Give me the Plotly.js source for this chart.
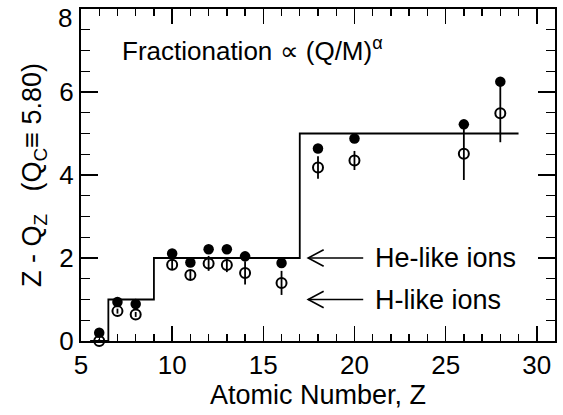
<!DOCTYPE html>
<html>
<head>
<meta charset="utf-8">
<script src="https://cdn.plot.ly/plotly-3.0.1.min.js"></script>
<style>html,body{margin:0;padding:0;background:#fff;}#chart{width:563px;height:415px;}</style>
</head>
<body>
<div id="chart"></div>
<script>
// Data
const atomicZ = [6, 7, 8, 10, 11, 12, 13, 14, 16, 18, 20, 26, 28];
const heLike  = [0.20, 0.94, 0.89, 2.11, 1.89, 2.21, 2.21, 2.04, 1.88, 4.64, 4.88, 5.22, 6.25];
const hLike   = [0.00, 0.72, 0.64, 1.84, 1.59, 1.87, 1.83, 1.64, 1.40, 4.18, 4.35, 4.51, 5.49];
const hLikeErr = [0.05, 0.06, 0.06, 0.12, 0.12, 0.18, 0.17, 0.28, 0.29, 0.27, 0.23, 0.63, 0.70];
const stepZ = [5.5, 6.5, 9, 17, 29];
const stepY = [0, 1, 2, 5, 5];
const xTicks = [5, 10, 15, 20, 25, 30];
const yTicks = [0, 2, 4, 6, 8];
const arrowLabels = ["He-like ions", "H-like ions"];
const arrowY = [2.0, 1.0];

const FONT = '"Liberation Sans", Arial, Helvetica, sans-serif';

const traces = [
  {
    x: stepZ, y: stepY, mode: 'lines', line: {shape: 'hv', color: '#000', width: 1.8},
    hoverinfo: 'skip', showlegend: false
  },
  {
    x: atomicZ, y: hLike, mode: 'markers', cliponaxis: false,
    marker: {symbol: 'circle-open', size: 10, color: '#000', line: {width: 2, color: '#000'}},
    error_y: {type: 'data', array: hLikeErr, visible: true, color: '#000', thickness: 1.8, width: 0},
    showlegend: false
  },
  {
    x: atomicZ, y: heLike, mode: 'markers', cliponaxis: false,
    marker: {symbol: 'circle', size: 10.5, color: '#000'},
    showlegend: false
  }
];

const arrowTip = 17.46, arrowTail = 20.48, headLen = 0.85, headHalf = 0.2, textX = 21.0;
const shapes = [];
const annotations = [{
  x: 7.16, y: 7.02, xref: 'x', yref: 'y', xanchor: 'left', yanchor: 'middle',
  text: 'Fractionation \u221D (Q/M)<sup>\u03B1</sup>', showarrow: false,
  font: {family: FONT, size: 26, color: '#000'}
}];
arrowY.forEach((yv, i) => {
  shapes.push({type: 'line', xref: 'x', yref: 'y', x0: arrowTip, x1: arrowTail, y0: yv, y1: yv,
    line: {color: '#000', width: 1.6}});
  shapes.push({type: 'path', xref: 'x', yref: 'y',
    path: `M ${arrowTip + headLen},${yv + headHalf} L ${arrowTip},${yv} L ${arrowTip + headLen},${yv - headHalf}`,
    line: {color: '#000', width: 1.6}});
  annotations.push({x: textX, y: yv, xref: 'x', yref: 'y', xanchor: 'left', yanchor: 'middle',
    text: arrowLabels[i], showarrow: false, font: {family: FONT, size: 27, color: '#000'}});
});

// top y tick label placed as an annotation so it is not cut at the page edge
const topTick = yTicks[yTicks.length - 1];
annotations.push({x: xTicks[0], y: topTick, xref: 'x', yref: 'y', xanchor: 'right', yanchor: 'top',
  xshift: -7, yshift: 8, text: String(topTick), showarrow: false,
  font: {family: FONT, size: 26, color: '#000'}});

const layout = {
  width: 563, height: 415,
  margin: {l: 81, r: 8, t: 9, b: 74},
  paper_bgcolor: '#fff', plot_bgcolor: '#fff',
  font: {family: FONT, color: '#000', size: 26},
  showlegend: false,
  xaxis: {
    range: [5, 31], tickmode: 'array', tickvals: xTicks, ticktext: xTicks.map(String),
    ticks: 'inside', ticklen: 15, tickwidth: 1.6, tickcolor: '#000',
    minor: {dtick: 1, tick0: 5, ticks: 'inside', ticklen: 7, tickwidth: 1.4, tickcolor: '#000', showgrid: false},
    showline: true, linecolor: '#000', linewidth: 2, mirror: 'ticks',
    showgrid: false, zeroline: false, ticklabeloverflow: 'allow',
    tickfont: {family: FONT, size: 26, color: '#000'},
    title: {text: 'Atomic Number, Z', font: {family: FONT, size: 27, color: '#000'}, standoff: 4}
  },
  yaxis: {
    range: [0, 8], tickmode: 'array', tickvals: yTicks,
    ticktext: yTicks.map((v, i) => i === yTicks.length - 1 ? '' : String(v)),
    ticks: 'inside', ticklen: 17, tickwidth: 1.6, tickcolor: '#000',
    minor: {dtick: 0.5, tick0: 0, ticks: 'inside', ticklen: 9, tickwidth: 1.4, tickcolor: '#000', showgrid: false},
    showline: true, linecolor: '#000', linewidth: 2, mirror: 'ticks',
    showgrid: false, zeroline: false, ticklabeloverflow: 'allow',
    tickfont: {family: FONT, size: 26, color: '#000'},
    title: {text: 'Z - Q<sub>Z</sub>   (Q<sub>C</sub>\u2261 5.80)', font: {family: FONT, size: 27, color: '#000'}, standoff: 10}
  },
  shapes: shapes,
  annotations: annotations
};

Plotly.newPlot('chart', traces, layout, {displayModeBar: false, staticPlot: true});
</script>
</body>
</html>
